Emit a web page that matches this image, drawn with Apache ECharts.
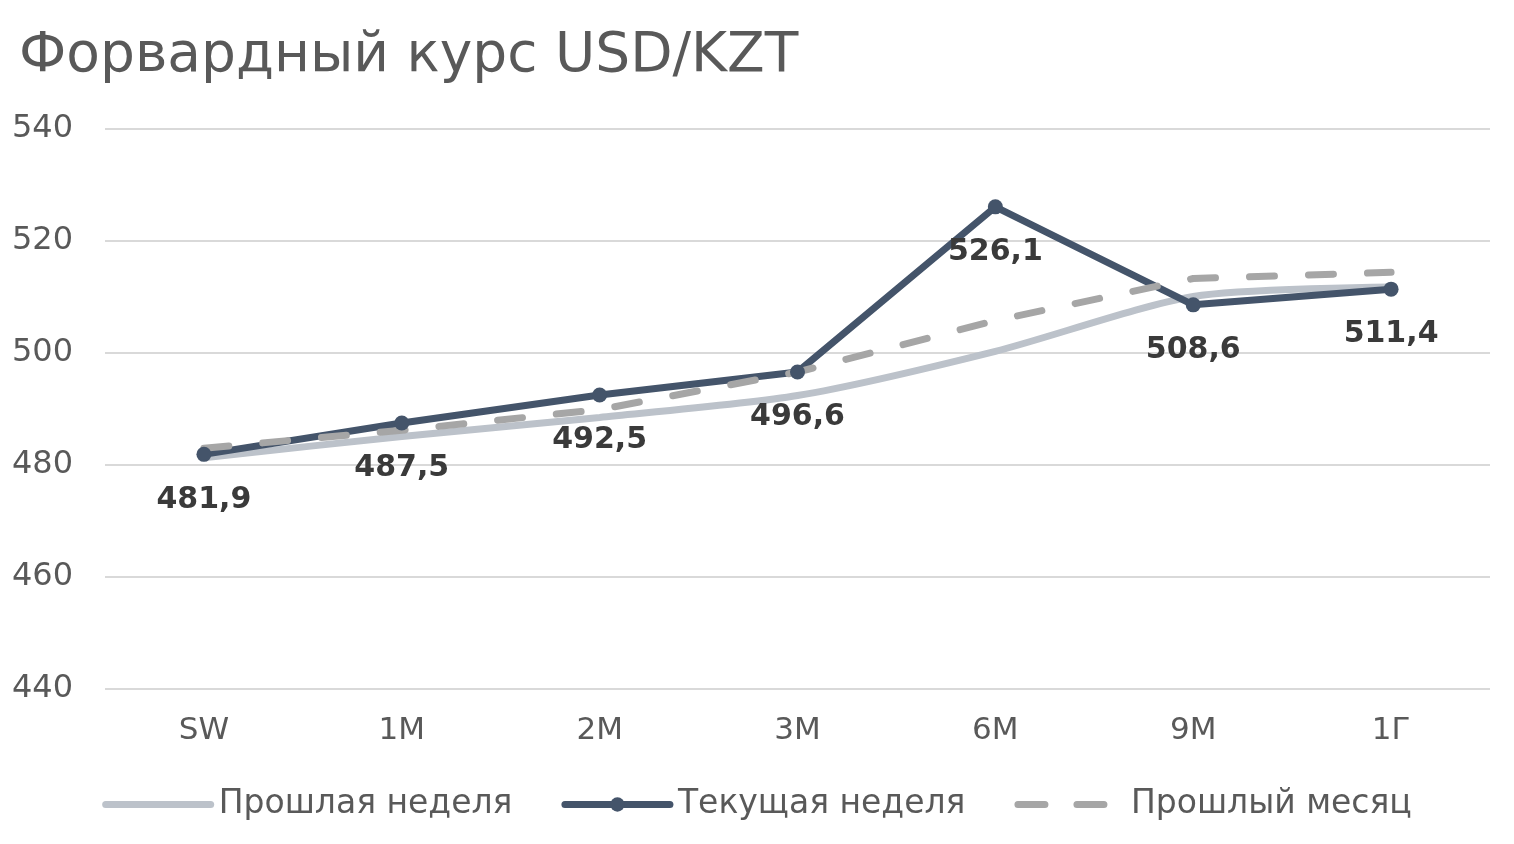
<!DOCTYPE html>
<html>
<head>
<meta charset="utf-8">
<script src="https://cdn.jsdelivr.net/npm/echarts@6/dist/echarts.min.js"></script>
<style>
  html, body { margin: 0; padding: 0; background: #fff; }
  #main { width: 1514px; height: 844px; }
</style>
</head>
<body>
<div id="main"></div>
<script>
var categories = ['SW', '1M', '2M', '3M', '6M', '9M', '1Г'];
var lastWeek = [481.3, 485.1, 488.5, 492.4, 500.3, 510.1, 511.8];
var currentWeek = [481.9, 487.5, 492.5, 496.6, 526.1, 508.6, 511.4];
var lastMonth = [483.0, 486.2, 489.9, 496.6, 505.8, 513.3, 514.4];
var yTicks = [440, 460, 480, 500, 520, 540];

var font = 'DejaVu Sans';
var textColor = '#595959';

var option = {
	title: {
		text: 'Форвардный курс USD/KZT',
		left: 14,
		top: 24,
		textStyle: {
			fontFamily: font,
			fontWeight: 'normal',
			fontSize: 55,
			color: textColor
		}
	},
	legend: {
		bottom: 18,
		left: 'center',
		itemWidth: 105,
		itemHeight: 18,
		itemGap: 49,
		lineStyle: { width: 7, cap: 'round' },
		textStyle: {
			fontFamily: font,
			fontSize: 33,
			color: textColor,
			padding: [0, 0, 0, 3]
		},
		data: [
			{ name: 'Прошлая неделя', itemStyle: { opacity: 0 } },
			{ name: 'Текущая неделя' },
			{ name: 'Прошлый месяц', itemStyle: { opacity: 0 },
			  lineStyle: { type: [27, 32], cap: 'round', width: 7 } }
		]
	},
	grid: {
		left: 105,
		right: 24,
		top: 129,
		bottom: 155
	},
	xAxis: {
		type: 'category',
		data: categories,
		axisLine: { show: false },
		axisTick: { show: false },
		axisLabel: {
			margin: 26,
			fontFamily: font,
			fontSize: 31,
			color: textColor
		}
	},
	yAxis: {
		type: 'value',
		min: yTicks[0],
		max: yTicks[yTicks.length - 1],
		interval: 20,
		axisLabel: {
			margin: 32,
			fontFamily: font,
			fontSize: 32,
			color: textColor,
			padding: [0, 0, 8, 0]
		},
		splitLine: {
			lineStyle: { color: '#d9d9d9', width: 2 }
		}
	},
	series: [{
		name: 'Прошлая неделя',
		type: 'line',
		data: lastWeek,
		smooth: 0.25,
		symbol: 'none',
		lineStyle: { color: '#bcc2ca', width: 7, cap: 'round' },
		itemStyle: { color: '#bcc2ca' }
	},
	{
		name: 'Текущая неделя',
		type: 'line',
		data: currentWeek,
		symbol: 'circle',
		symbolSize: 15,
		lineStyle: { color: '#44546a', width: 7 },
		itemStyle: { color: '#44546a' },
		label: {
			show: true,
			position: 'bottom',
			distance: 23,
			fontFamily: font,
			fontWeight: 'bold',
			fontSize: 30,
			color: '#3a3a3a',
			formatter: function (p) {
				return String(p.value).replace('.', ',');
			}
		}
	},
	{
		name: 'Прошлый месяц',
		type: 'line',
		data: lastMonth,
		symbol: 'none',
		lineStyle: { color: '#a6a6a6', width: 7, type: [25, 34], cap: 'round' },
		itemStyle: { color: '#a6a6a6' }
	}]
};
var myChart = echarts.init(document.getElementById('main'));
myChart.setOption(option);
</script>
</body>
</html>
